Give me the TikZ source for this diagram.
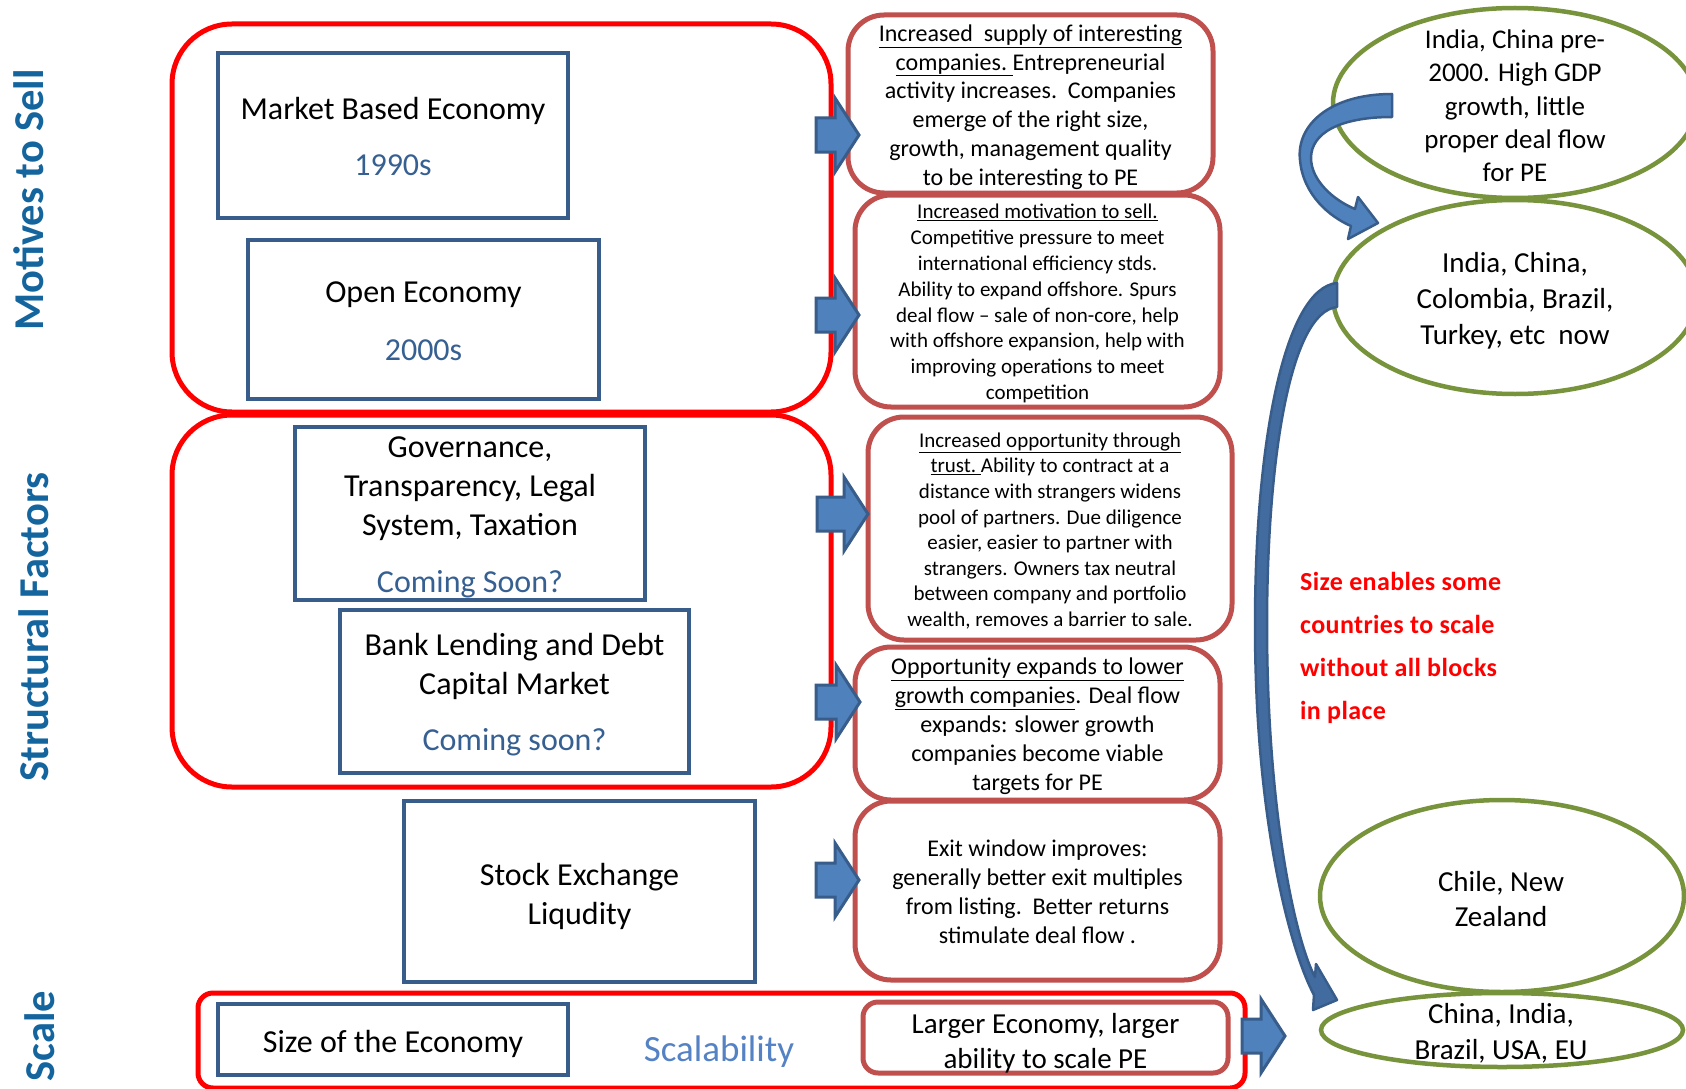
\documentclass[tikz,border=0pt]{standalone}
\usepackage{fontspec}
\setmainfont{Carlito}
\usetikzlibrary{shapes.geometric}
\definecolor{boxblue}{RGB}{56,93,138}
\definecolor{txtblue}{RGB}{55,96,146}
\definecolor{scalblue}{RGB}{84,130,196}
\definecolor{pered}{RGB}{192,80,77}
\definecolor{olivegr}{RGB}{119,147,60}
\definecolor{arrfill}{RGB}{79,129,189}
\definecolor{arrline}{RGB}{56,93,138}
\definecolor{arrdark}{RGB}{66,108,160}
\definecolor{labblue}{RGB}{20,100,158}
\tikzset{
  grp/.style={draw=red, line width=5pt, rounded corners=60pt, inner sep=0pt},
  lbox/.style={draw=boxblue, line width=4pt, inner sep=0pt},
  pbox/.style={draw=pered, line width=5pt, rounded corners=36pt, inner sep=0pt},
  ell/.style={ellipse, draw=olivegr, line width=4.5pt, inner sep=0pt},
  btext/.style={align=center, inner sep=0pt},
  big/.style={btext, font=\fontsize{32}{39}\selectfont},
  sidelab/.style={rotate=90, text=labblue, inner sep=0pt, font=\bfseries\fontsize{42.5}{43}\selectfont},
  carrow/.style={fill=arrfill, draw=arrline, line width=2.5pt, line join=round},
  pics/barrow/.style={code={
    \filldraw[fill=arrfill, draw=arrline, line width=3pt]
      (0,-17) -- (#1-24,-17) -- (#1-24,-37) -- (#1,0) -- (#1-24,37) -- (#1-24,17) -- (0,17) -- cycle;}}
}
\begin{document}
\begin{tikzpicture}[x=1pt,y=-1pt]
\fill[white] (0,0) rectangle (1686,1089);
\useasboundingbox (0,0) rectangle (1686,1089);

% side labels
\node[sidelab] (lab1) at (29,200) {Motives to Sell};
\node[sidelab] (lab2) at (34,627) {Structural Factors};
\node[sidelab] (lab3) at (40,1036) {Scale};

% red groups
\node[grp, minimum width=659pt, minimum height=388pt] (g1) at (501.5,218) {};
\node[grp, minimum width=659pt, minimum height=372pt] (g2) at (501.5,601) {};
\node[grp, rounded corners=15pt, minimum width=1047pt, minimum height=95pt] (g3) at (721.5,1040.5) {};

% left boxes
\node[lbox, minimum width=350pt, minimum height=165pt] (mkt) at (393,135.5) {};
\node[big] (mktT) at ([yshift=-1pt]mkt.center) {Market Based Economy\\[17pt]{\color{txtblue}1990s}};
\node[lbox, minimum width=351pt, minimum height=159pt] (open) at (423.5,319.5) {};
\node[big] (openT) at ([yshift=-2pt]open.center) {Open Economy\\[19pt]{\color{txtblue}2000s}};
\node[lbox, minimum width=350pt, minimum height=173pt] (gov) at (470,513.5) {};
\node[big] (govT) at ([yshift=-4pt]gov.center)
  {Governance,\\Transparency, Legal\\System, Taxation\\[18pt]{\color{txtblue}Coming Soon?}};
\node[lbox, minimum width=349pt, minimum height=163pt] (bank) at (514.5,691.5) {};
\node[big] (bankT) at ([yshift=-3pt]bank.center)
  {Bank Lending and Debt\\Capital Market\\[17pt]{\color{txtblue}Coming soon?}};
\node[lbox, minimum width=351pt, minimum height=181pt] (stock) at (579.5,891.5) {};
\node[big] (stockT) at ([yshift=-5pt]stock.center) {Stock Exchange\\Liqudity};
\node[lbox, minimum width=350pt, minimum height=71pt] (size) at (393,1039.5) {};
\node[big] (sizeT) at ([yshift=-4pt]size.center) {Size of the Economy};
\node[text=scalblue, inner sep=0pt, font=\fontsize{37}{40}\selectfont] (scal) at (719,1052) {Scalability};

% right boxes
\node[pbox, minimum width=365pt, minimum height=178pt] (b1) at (1030.5,104) {};
\node[btext, font=\fontsize{24}{28.8}\selectfont] (b1T) at ([yshift=-3pt]b1.center)
  {\underline{Increased\ \ supply of interesting}\\
   \underline{companies.\ }Entrepreneurial\\
   activity increases.\ \ Companies\\
   emerge of the right size,\\
   growth, management quality\\
   to be interesting to PE};
\node[pbox, minimum width=365pt, minimum height=212pt] (b2) at (1037.5,301) {};
\node[btext, font=\fontsize{21}{25.8}\selectfont] (b2T) at ([yshift=-2.5pt]b2.center)
  {\underline{Increased motivation to sell.}\\
   Competitive pressure to meet\\
   international efficiency stds.\\
   Ability to expand offshore. Spurs\\
   deal flow -- sale of non-core, help\\
   with offshore expansion, help with\\
   improving operations to meet\\
   competition};
\node[pbox, minimum width=364pt, minimum height=223pt] (b3) at (1050,528.5) {};
\node[btext, font=\fontsize{21}{25.6}\selectfont] (b3T) at ([yshift=-2.5pt]b3.center)
  {\underline{Increased opportunity through}\\
   \underline{trust.\ }Ability to contract at a\\
   distance with strangers widens\\
   pool of partners. Due diligence\\
   easier, easier to partner with\\
   strangers. Owners tax neutral\\
   between company and portfolio\\
   wealth, removes a barrier to sale.};
\node[pbox, minimum width=365pt, minimum height=153pt] (b4) at (1037.5,723.5) {};
\node[btext, font=\fontsize{24}{29}\selectfont] (b4T) at ([yshift=-3pt]b4.center)
  {\underline{Opportunity expands to lower}\\
   \underline{growth companies}. Deal flow\\
   expands: slower growth\\
   companies become viable\\
   targets for PE};
\node[pbox, minimum width=365pt, minimum height=179pt] (b5) at (1037.5,890.5) {};
\node[btext, font=\fontsize{24}{29}\selectfont] (b5T) at ([yshift=-1pt]b5.center)
  {Exit window improves:\\
   generally better exit multiples\\
   from listing.\ \ Better returns\\
   stimulate deal flow .};
\node[pbox, rounded corners=15pt, minimum width=365pt, minimum height=71pt] (b6) at (1045.5,1037.5) {};
\node[btext, font=\fontsize{29}{34.5}\selectfont] (b6T) at ([yshift=-6pt]b6.center)
  {Larger Economy, larger\\ability to scale PE};

% ellipses
\node[ell, minimum width=364pt, minimum height=190pt] (e1) at (1515,103) {};
\node[ell, minimum width=364pt, minimum height=194pt] (e2) at (1515,297) {};
\node[ell, minimum width=364pt, minimum height=192pt] (e3) at (1502,896) {};
\node[ell, minimum width=362pt, minimum height=74pt] (e4) at (1502,1030) {};
\node[btext, font=\fontsize{27}{33.3}\selectfont] (e1t) at (1515,106) {India, China pre-\\2000. High GDP\\growth, little\\proper deal flow\\for PE};
\node[btext, font=\fontsize{29}{36}\selectfont] (e2t) at (1515,301) {India, China,\\Colombia, Brazil,\\Turkey, etc\ \ now};
\node[btext, font=\fontsize{29}{35.5}\selectfont] (e3t) at (1501,899) {Chile, New\\Zealand};
\node[btext, font=\fontsize{29}{36}\selectfont] (e4t) at (1501,1033) {China, India,\\Brazil, USA, EU};

% red note
\node[anchor=west, align=left, text=red, inner sep=0pt,
      font=\bfseries\fontsize{26}{43}\selectfont\addfontfeature{LetterSpace=1.5}] (note) at (1300,648)
  {Size enables some\\countries to scale\\without all blocks\\in place};

% block arrows
\pic at (816,135) {barrow=43};
\pic at (816,315) {barrow=43};
\pic at (817,514) {barrow=51};
\pic at (816,702) {barrow=44};
\pic at (816,880) {barrow=43};
\pic at (1242,1036) {barrow=43};

% curved arrows
\filldraw[carrow] (1392,94) .. controls (1330,94) and (1296,125) .. (1300,160)
  .. controls (1303,195) and (1330,217) .. (1351,226) -- (1348,239) -- (1378,223) -- (1358,197) -- (1355,209)
  .. controls (1333,200) and (1311,180) .. (1311,158)
  .. controls (1311,133) and (1340,117) .. (1392,117) -- cycle;
\filldraw[carrow, fill=arrdark] (1337,283) .. controls (1285,288) and (1255,440) .. (1255,625)
  .. controls (1255,820) and (1290,950) .. (1314,995) -- (1313,1010) -- (1337,1000) -- (1316,964) -- (1315,977)
  .. controls (1295,940) and (1267,810) .. (1267,625)
  .. controls (1267,460) and (1290,312) .. (1337,307) -- cycle;
\end{tikzpicture}
\end{document}
